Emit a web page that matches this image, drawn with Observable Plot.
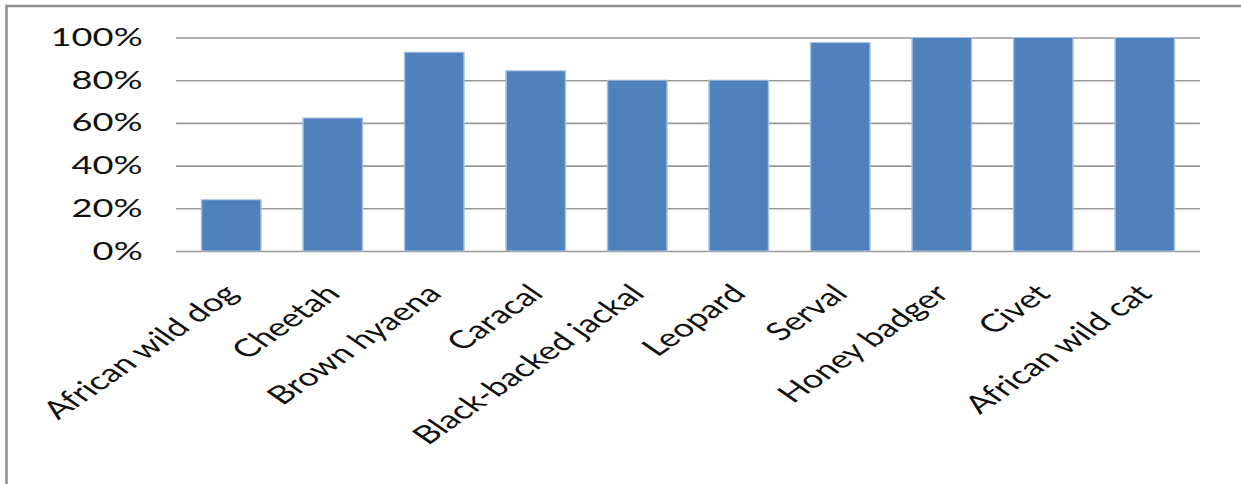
<!DOCTYPE html>
<html>
<head>
<meta charset="utf-8">
<script src="https://cdn.jsdelivr.net/npm/d3@7"></script>
<script src="https://cdn.jsdelivr.net/npm/@observablehq/plot@0.6"></script>
<style>
  html, body { margin: 0; padding: 0; background: #fff; overflow: hidden; }
  #page { position: relative; width: 1241px; height: 484px; overflow: hidden; }
  #outline { position: absolute; left: 0; top: 0; }
  #chart { position: absolute; left: 0; top: 0; transform-origin: 0 0; }
</style>
</head>
<body>
<div id="page">
  <svg id="outline" width="1241" height="484"></svg>
  <div id="chart"></div>
</div>
<script>
// Share of records per carnivore species
const species = [
  "African wild dog", "Cheetah", "Brown hyaena", "Caracal", "Black-backed jackal",
  "Leopard", "Serval", "Honey badger", "Civet", "African wild cat"
];
const shares = [0.24, 0.623, 0.931, 0.844, 0.80, 0.80, 0.976, 1, 1, 1];
const yTicks = [0, 0.2, 0.4, 0.6, 0.8, 1];

const data = species.map((name, i) => ({species: name, share: shares[i]}));

// Chart outline: left and top edges of the chart box
d3.select("#outline").append("path")
  .attr("d", "M6.5,484V6H1241")
  .attr("fill", "none")
  .attr("stroke", "#8e8e8e")
  .attr("stroke-width", 2.5);

// The chart is laid out narrow and widened horizontally as a whole.
const stretch = 1.45;
const pct = d => Math.round(d * 100) + "%";

const chart = Plot.plot({
  width: Math.round(1241 / stretch),
  height: 484,
  marginTop: 37.5,
  marginBottom: 233,
  marginLeft: 121.4,
  marginRight: 28.4,
  style: {fontFamily: "Lato, 'Open Sans', sans-serif", fontSize: "25px", color: "#000", background: "transparent", overflow: "visible"},
  x: {domain: species, paddingInner: 0.42, paddingOuter: 0.21, label: null},
  y: {domain: [0, 1], label: null},
  marks: [
    Plot.gridY(yTicks, {stroke: "#999", strokeOpacity: 1, strokeWidth: 1.6}),
    Plot.barY(data, {x: "species", y: "share", fill: "#4f81bd", stroke: "#a9c1e0", strokeWidth: 1}),
    Plot.axisY({ticks: yTicks, tickSize: 0, tickPadding: 23.5, tickFormat: pct, label: null, fill: "#111"}),
    Plot.axisX({tickSize: 0, tickRotate: -45, tickPadding: 38, label: null, fill: "#111"})
  ]
});

const holder = document.getElementById("chart");
holder.style.transform = `scaleX(${stretch})`;
holder.appendChild(chart);
</script>
</body>
</html>
